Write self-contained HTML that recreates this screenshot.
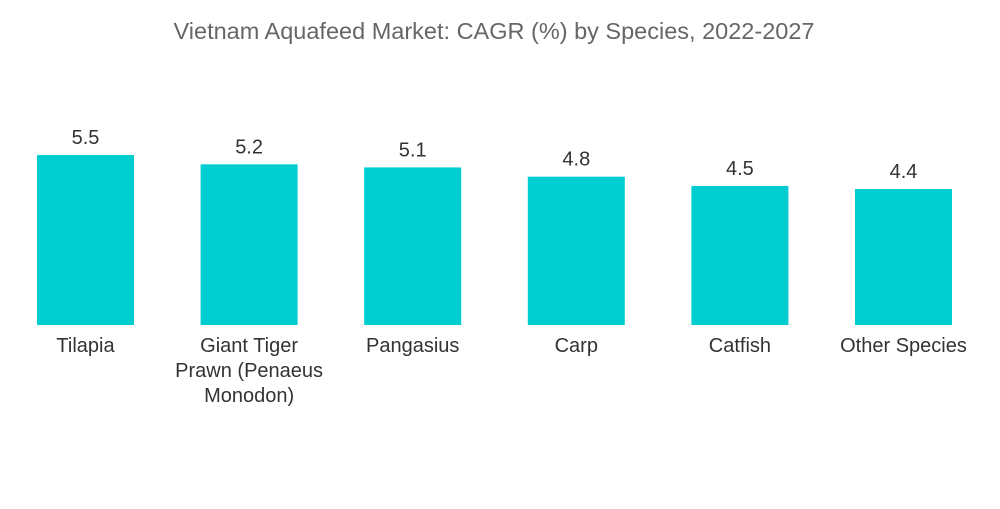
<!DOCTYPE html>
<html><head><meta charset="utf-8"><style>
body{margin:0;background:#fff;width:1000px;height:504px;overflow:hidden;font-family:"Liberation Sans",sans-serif;}
</style></head><body>
<svg width="1000" height="504">
<text x="494" y="39" text-anchor="middle" font-size="23.5" fill="#666">Vietnam Aquafeed Market: CAGR (%) by Species, 2022-2027</text>
<g id="bars"></g>
</svg>
<script>
const categories=[["Tilapia"],["Giant Tiger","Prawn (Penaeus","Monodon)"],["Pangasius"],["Carp"],["Catfish"],["Other Species"]];
const values=[5.5,5.2,5.1,4.8,4.5,4.4];
const labels=["5.5","5.2","5.1","4.8","4.5","4.4"];
const baseY=325, pxPerUnit=30.9, x0=85.5, step=163.6, bw=97;
function xScale(i){return x0+i*step;}
function yScale(v){return baseY-v*pxPerUnit;}
const g=document.getElementById('bars');
const ns='http://www.w3.org/2000/svg';
values.forEach((v,i)=>{
  const r=document.createElementNS(ns,'rect');
  r.setAttribute('x',xScale(i)-bw/2);r.setAttribute('y',yScale(v));
  r.setAttribute('width',bw);r.setAttribute('height',baseY-yScale(v));
  r.setAttribute('fill','#00CDD0');
  
  
  g.appendChild(r);
  const t=document.createElementNS(ns,'text');
  t.setAttribute('x',xScale(i));t.setAttribute('y',yScale(v)-11);
  t.setAttribute('text-anchor','middle');t.setAttribute('font-size','20');t.setAttribute('fill','#333');
  t.textContent=labels[i];
  
  
  g.appendChild(t);
  categories[i].forEach((line,j)=>{
    const c=document.createElementNS(ns,'text');
    c.setAttribute('x',xScale(i));c.setAttribute('y',352+j*25);
    c.setAttribute('text-anchor','middle');c.setAttribute('font-size','20');c.setAttribute('fill','#333');
    c.textContent=line;
    
    
    g.appendChild(c);
  });
});
</script>
</body></html>
